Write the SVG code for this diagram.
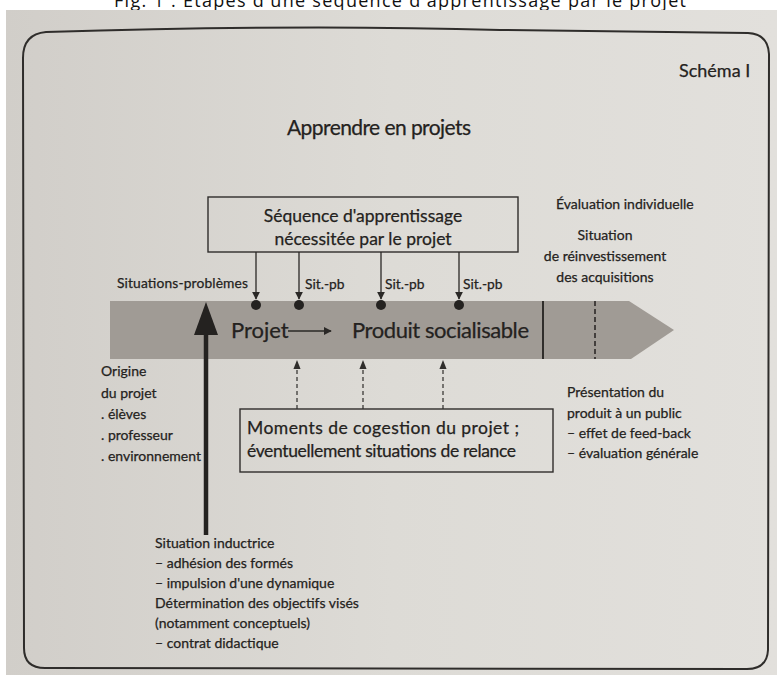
<svg xmlns="http://www.w3.org/2000/svg" width="777" height="675" viewBox="0 0 777 675">
<defs>
<linearGradient id="paper" x1="0" y1="0" x2="1" y2="0">
<stop offset="0" stop-color="#d1cec9"/>
<stop offset="0.5" stop-color="#dddbd6"/>
<stop offset="1" stop-color="#e2e0dc"/>
</linearGradient>
<marker id="ah" viewBox="0 0 10 10" refX="9" refY="5" markerWidth="8" markerHeight="8" markerUnits="userSpaceOnUse" orient="auto">
<path d="M0,0 L10,5 L0,10 z" fill="#2a2826"/>
</marker>
<marker id="ahs" viewBox="0 0 10 10" refX="9" refY="5" markerWidth="9" markerHeight="9" markerUnits="userSpaceOnUse" orient="auto">
<path d="M0,1 L10,5 L0,9 z" fill="#2f2d2b"/>
</marker>
<style>
.t{font-family:Lato,"Open Sans","DejaVu Sans",sans-serif;fill:#242220;stroke:#242220;stroke-width:0.25}
.s12{font-size:13.8px}
.s13{font-size:14px}
.s17{font-size:17.5px}
.s22{font-size:22px}
.box{fill:none;stroke:#2f2d2b;stroke-width:1.4}
.ln{stroke:#2a2826;stroke-width:1.3;fill:none}
.dash{stroke:#2f2d2b;stroke-width:1.2;stroke-dasharray:4,3;fill:none}
</style>
</defs>

<rect x="0" y="0" width="777" height="675" fill="#ffffff"/>
<g id="title">
<text x="400" y="7" text-anchor="middle" style="font-family:'Open Sans','Liberation Sans',sans-serif;font-size:18px;fill:#111" textLength="572">Fig. 1 : Étapes d'une séquence d'apprentissage par le projet</text>
</g>
<rect x="6" y="10" width="771" height="665" fill="url(#paper)"/>

<g id="frame">
<path d="M46,32 Q300,24 500,30 L748,33 Q768,34 769,54 L768,650 Q767,669 747,669 L45,668 Q24,668 24,648 L23,58 Q23,34 46,32 Z" fill="none" stroke="#2f2d2b" stroke-width="2"/>
</g>

<g id="schema-label"><text class="t" x="679" y="77" style="font-size:18px">Schéma I</text></g>
<g id="heading"><text class="t" x="379" y="135" text-anchor="middle" style="font-size:21px" textLength="184">Apprendre en projets</text></g>

<g id="band">
<polygon points="110,301 629,301 674,330 631,359 110,359" fill="#a09b95"/>
<line x1="543" y1="301" x2="543" y2="359" stroke="#242220" stroke-width="1.8"/>
<line x1="595" y1="301" x2="595" y2="359" stroke="#242220" stroke-width="1.5" stroke-dasharray="5,3"/>
<text class="t s22" x="231" y="338">Projet</text>
<line x1="288" y1="331" x2="331" y2="331" class="ln" marker-end="url(#ah)"/>
<text class="t" x="352" y="338" style="font-size:22px" textLength="177">Produit socialisable</text>
</g>

<g id="seq-box">
<rect x="208" y="197" width="310" height="55" class="box"/>
<text class="t s17" x="363" y="222" text-anchor="middle">Séquence d'apprentissage</text>
<text class="t s17" x="363" y="245" text-anchor="middle">nécessitée par le projet</text>
</g>

<g id="sit-labels">
<text class="t s12" x="117" y="288" textLength="131">Situations-problèmes</text>
<text class="t s12" x="305" y="289">Sit.-pb</text>
<text class="t s12" x="385" y="289">Sit.-pb</text>
<text class="t s12" x="463" y="289">Sit.-pb</text>
</g>

<g id="eval-label">
<text class="t s13" x="556" y="209">Évaluation individuelle</text>
<text class="t s13" x="605" y="240" text-anchor="middle">Situation</text>
<text class="t s13" x="605" y="261" text-anchor="middle">de réinvestissement</text>
<text class="t s13" x="605" y="282" text-anchor="middle">des acquisitions</text>
</g>

<g id="origine-label">
<text class="t s13" x="101" y="376">Origine</text>
<text class="t s13" x="101" y="398">du projet</text>
<text class="t s13" x="101" y="419">. élèves</text>
<text class="t s13" x="101" y="440">. professeur</text>
<text class="t s13" x="101" y="461">. environnement</text>
</g>

<g id="cogestion-box">
<rect x="240" y="409" width="313" height="63" class="box"/>
<text class="t s17" x="247" y="434" textLength="272">Moments de cogestion du projet ;</text>
<text class="t s17" x="247" y="457" textLength="269">éventuellement situations de relance</text>
</g>

<g id="presentation-label">
<text class="t s13" x="567" y="397">Présentation du</text>
<text class="t s13" x="567" y="418">produit à un public</text>
<text class="t s13" x="567" y="438">– effet de feed-back</text>
<text class="t s13" x="567" y="458">– évaluation générale</text>
</g>

<g id="inductrice-label">
<text class="t s13" x="155" y="548">Situation inductrice</text>
<text class="t s13" x="155" y="568">– adhésion des formés</text>
<text class="t s13" x="155" y="588">– impulsion d'une dynamique</text>
<text class="t s13" x="155" y="608">Détermination des objectifs visés</text>
<text class="t s13" x="155" y="628">(notamment conceptuels)</text>
<text class="t s13" x="155" y="648">– contrat didactique</text>
</g>

<g id="connectors">
<line x1="256" y1="252" x2="256" y2="299" class="ln" marker-end="url(#ah)"/>
<line x1="299" y1="252" x2="299" y2="299" class="ln" marker-end="url(#ah)"/>
<line x1="381" y1="252" x2="381" y2="299" class="ln" marker-end="url(#ah)"/>
<line x1="459" y1="252" x2="459" y2="299" class="ln" marker-end="url(#ah)"/>
<circle cx="256" cy="305" r="5" fill="#242220"/>
<circle cx="299" cy="305" r="5" fill="#242220"/>
<circle cx="381" cy="305" r="5" fill="#242220"/>
<circle cx="459" cy="305" r="5" fill="#242220"/>
<line x1="297" y1="409" x2="297" y2="361" class="dash" marker-end="url(#ahs)"/>
<line x1="363" y1="409" x2="363" y2="361" class="dash" marker-end="url(#ahs)"/>
<line x1="443" y1="409" x2="443" y2="361" class="dash" marker-end="url(#ahs)"/>
<line x1="206" y1="535" x2="206" y2="330" stroke="#242220" stroke-width="4.5"/>
<polygon points="206,302 218,335 194,335" fill="#242220"/>
</g>
</svg>
